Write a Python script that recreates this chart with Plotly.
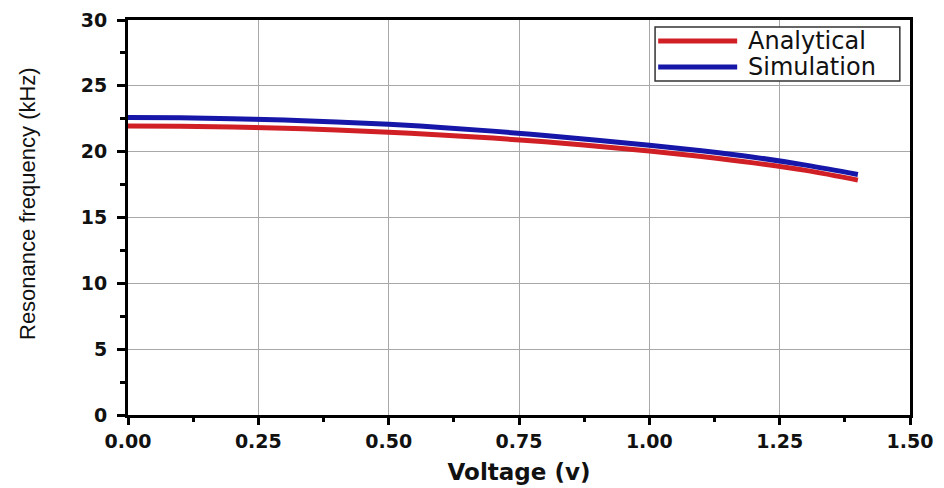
import plotly.graph_objects as go

voltage = [0.0, 0.1, 0.2, 0.3, 0.4, 0.5, 0.6, 0.7, 0.8, 0.9, 1.0, 1.1, 1.2, 1.3, 1.4]
analytical = [21.95, 21.93, 21.87, 21.78, 21.65, 21.48, 21.27, 21.03, 20.75, 20.42, 20.05, 19.63, 19.15, 18.58, 17.84]
simulation = [22.6, 22.57, 22.5, 22.4, 22.26, 22.08, 21.84, 21.56, 21.22, 20.87, 20.49, 20.07, 19.58, 18.98, 18.27]
series_names = ["Analytical", "Simulation"]

x_ticks = [0.0, 0.25, 0.5, 0.75, 1.0, 1.25, 1.5]
y_ticks = [0, 5, 10, 15, 20, 25, 30]

RED = "rgb(208,32,38)"
BLUE = "rgb(22,22,168)"
colors = [RED, BLUE]

fig = go.Figure()
for name, ys, c in zip(series_names, [analytical, simulation], colors):
    fig.add_trace(go.Scatter(x=voltage, y=ys, mode="lines", name=name,
                             line=dict(color=c, width=5, shape="spline")))

tick_font = dict(family="DejaVu Sans", size=19, color="#111")
axis_common = dict(
    showline=True, linecolor="black", linewidth=3, mirror=True,
    ticks="outside", tickwidth=2.5, tickcolor="black",
    showgrid=True, gridcolor="#a8a8a8", gridwidth=1,
    zeroline=False, tickfont=tick_font, automargin=False,
)

fig.update_xaxes(
    range=[0, 1.5], tickvals=x_ticks, ticktext=[f"<b>{v:.2f}</b>" for v in x_ticks],
    ticklen=7,
    minor=dict(ticks="outside", dtick=0.125, tick0=0, ticklen=4, tickwidth=2.5, tickcolor="black", showgrid=False),
    title=dict(text="<b>Voltage (v)</b>", font=dict(family="DejaVu Sans", size=23, color="#111"), standoff=14),
    **axis_common,
)
fig.update_yaxes(
    range=[0, 30], tickvals=y_ticks, ticktext=[f"<b>{v}</b>" for v in y_ticks],
    ticklen=8, ticklabelstandoff=6,
    minor=dict(ticks="outside", dtick=2.5, tick0=0, ticklen=5, tickwidth=2.5, tickcolor="black", showgrid=False),
    **axis_common,
)

# legend box drawn in paper coordinates
box = dict(x0=0.674, x1=0.987, y0=0.8456, y1=0.982)
row_y = [0.9468, 0.881]
line_x = (0.678, 0.779)
text_x = 0.7905

shapes = [dict(type="rect", xref="paper", yref="paper", **box,
               line=dict(color="#333", width=1.5), fillcolor="white", layer="above")]
annotations = []
for name, c, yy in zip(series_names, colors, row_y):
    shapes.append(dict(type="line", xref="paper", yref="paper", x0=line_x[0], x1=line_x[1],
                       y0=yy, y1=yy, line=dict(color=c, width=5), layer="above"))
    annotations.append(dict(xref="paper", yref="paper", x=text_x, y=yy, text=name,
                            showarrow=False, xanchor="left", yanchor="middle",
                            font=dict(family="DejaVu Sans", size=24, color="#111")))

# y-axis title
annotations.append(dict(xref="paper", yref="paper", x=(27 - 128) / 782, y=(415 - 204) / 395,
                        text="Resonance frequency (kHz)", textangle=-90, showarrow=False,
                        xanchor="center", yanchor="middle",
                        font=dict(family="Liberation Sans, Arial, sans-serif", size=22, color="#111")))

fig.update_layout(
    width=944, height=488,
    margin=dict(l=128, r=34, t=20, b=73),
    paper_bgcolor="white", plot_bgcolor="white",
    showlegend=False,
    shapes=shapes, annotations=annotations,
)

fig.write_html("out.html")
